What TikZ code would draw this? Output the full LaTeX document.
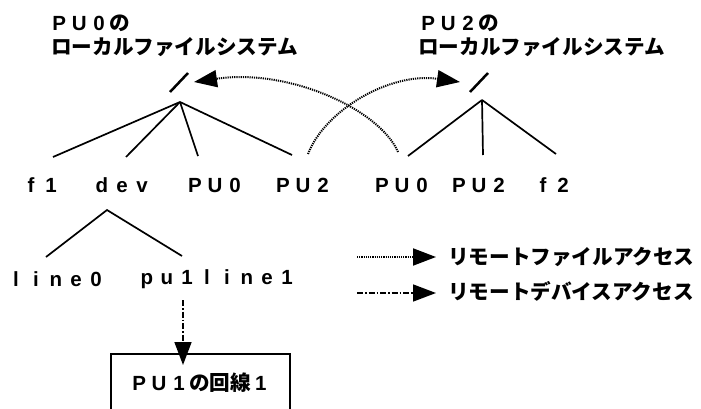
\documentclass[tikz,border=0pt]{standalone}
\usepackage{fontspec}
\newfontfamily\jp{Noto Sans CJK JP}
\newfontfamily\lat{Liberation Sans}
\usetikzlibrary{arrows.meta}
% Latin letters set on a fixed pitch
\newcommand\pitch{20pt}
\def\mono#1{\monoi#1\relax}
\def\monoi#1{\ifx#1\relax\else\makebox[\pitch]{\lat\bfseries\fontsize{20.5}{24}\selectfont #1}\expandafter\monoi\fi}
\begin{document}
\begin{tikzpicture}[x=1pt,y=-1pt,
  lbl/.style={font=\jp\bfseries\fontsize{20.6}{24}\selectfont, inner sep=0pt},
  branch/.style={line width=1.7pt},
  rootmark/.style={line width=2.5pt},
  tip/.style={-{Triangle[length=23pt,width=17pt]}},
  fileacc/.style={tip, line width=2pt, dash pattern=on 1.2pt off 1pt},
  devacc/.style={tip, line width=1.6pt, dash pattern=on 6pt off 2pt on 1.5pt off 2pt},
  devbox/.style={draw, line width=1.4pt, minimum width=179pt, minimum height=58pt, inner sep=0pt}]
\clip (0,0) rectangle (701,409);
\useasboundingbox (0,0) rectangle (701,409);

% file system titles
\node[lbl, anchor=west] (t0a) at (49,23) {\mono{PU0}の};
\node[lbl, anchor=west] (t0b) at (51,47) {ローカルファイルシステム};
\node[lbl, anchor=west] (t2a) at (418,23) {\mono{PU2}の};
\node[lbl, anchor=west] (t2b) at (418,47) {ローカルファイルシステム};

% root directories
\coordinate (r0a) at (170,92); \coordinate (r0b) at (188,73);
\coordinate (r2a) at (470,92); \coordinate (r2b) at (488,73);
\draw[rootmark] (r0a) -- (r0b);
\draw[rootmark] (r2a) -- (r2b);
\coordinate (apex0) at (180,102);
\coordinate (apex2) at (482,100);

% entries
\node[lbl] (f1)   at (41,185)  {\mono{f1}};
\node[lbl] (dev)  at (122,185) {\mono{dev}};
\node[lbl] (pu0a) at (215,185) {\mono{PU0}};
\node[lbl] (pu2a) at (303,185) {\mono{PU2}};
\node[lbl] (pu0b) at (402,185) {\mono{PU0}};
\node[lbl] (pu2b) at (479,185) {\mono{PU2}};
\node[lbl] (f2)   at (553,185) {\mono{f2}};

% branches of the PU0 tree
\coordinate (e1) at (53,157);
\coordinate (e2) at (126,157);
\coordinate (e3) at (198,156);
\coordinate (e4) at (292,155);
\foreach \e in {e1,e2,e3,e4} \draw[branch] (apex0) -- (\e);

% branches of the PU2 tree
\coordinate (g1) at (408,156);
\coordinate (g2) at (483,155);
\coordinate (g3) at (556,154);
\foreach \g in {g1,g2,g3} \draw[branch] (apex2) -- (\g);

% dev subtree
\coordinate (apexd) at (107,210);
\coordinate (d1) at (46,257);
\coordinate (d2) at (182,256);
\draw[branch] (d1) -- (apexd) -- (d2);
\node[lbl] (line0)   at (56,279)  {\mono{line0}};
\node[lbl] (pu1line) at (217,279) {\mono{pu1line1}};

% remote device
\node[devbox] (line1) at (200.5,383) {};
\node[lbl] (line1t) at (200,383) {\mono{PU1}の回線\mono{1}};
\coordinate (devfrom) at (183,300);
\coordinate (devto) at (183,365);
\draw[devacc] (devfrom) -- (devto);

% remote file accesses
\coordinate (fa0) at (308,154); \coordinate (fa1) at (460,82);
\coordinate (fb0) at (398,152); \coordinate (fb1) at (194,82);
\draw[fileacc] (fa0) .. controls (325,110) and (390,72) .. (fa1);
\draw[fileacc] (fb0) .. controls (380,110) and (290,68) .. (fb1);

% legend
\coordinate (k1a) at (357,257); \coordinate (k1b) at (436,257);
\coordinate (k2a) at (357,293); \coordinate (k2b) at (436,293);
\draw[fileacc] (k1a) -- (k1b);
\draw[devacc] (k2a) -- (k2b);
\node[lbl, anchor=west] (k1) at (448,257) {リモートファイルアクセス};
\node[lbl, anchor=west] (k2) at (448,291) {リモートデバイスアクセス};
\end{tikzpicture}
\end{document}
